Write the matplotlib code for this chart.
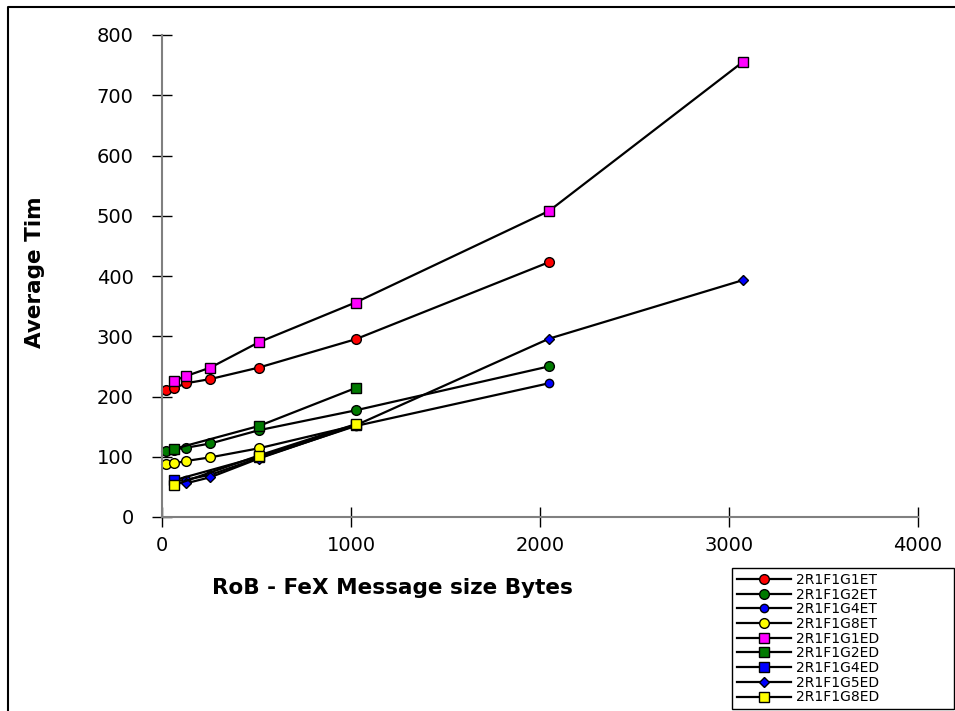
import matplotlib
matplotlib.use("Agg")
import matplotlib.pyplot as plt
from matplotlib.lines import Line2D

# ---- data ----
g1et_x = [20, 64, 128, 256, 512, 1024, 2048]
g1et_y = [210, 214, 222, 229, 248, 295, 423]
g2et_x = [20, 64, 128, 256, 512, 1024, 2048]
g2et_y = [110, 112, 115, 122, 144, 177, 250]
g4et_x = [64, 128, 256, 512, 1024, 2048]
g4et_y = [59, 62, 70, 98, 151, 222]
g8et_x = [20, 64, 128, 256, 512, 1024]
g8et_y = [88, 89, 93, 99, 114, 152]
g1ed_x = [64, 128, 256, 512, 1024, 2048, 3072]
g1ed_y = [226, 234, 248, 290, 356, 508, 755]
g2ed_x = [64, 512, 1024]
g2ed_y = [113, 151, 214]
g4ed_x = [64, 512, 1024]
g4ed_y = [61, 100, 153]
g5ed_x = [128, 256, 512, 1024, 2048, 3072]
g5ed_y = [56, 66, 97, 152, 296, 393]
g8ed_x = [64, 512, 1024]
g8ed_y = [53, 102, 154]

labels = ["2R1F1G1ET", "2R1F1G2ET", "2R1F1G4ET", "2R1F1G8ET",
          "2R1F1G1ED", "2R1F1G2ED", "2R1F1G4ED", "2R1F1G5ED", "2R1F1G8ED"]
x_ticks = [0, 1000, 2000, 3000, 4000]
y_ticks = [0, 100, 200, 300, 400, 500, 600, 700, 800]

series = [
    (g1et_x, g1et_y, "o", "#FF0000", 7),
    (g2et_x, g2et_y, "o", "#007A00", 7),
    (g4et_x, g4et_y, "o", "#0000FF", 6),
    (g8et_x, g8et_y, "o", "#FFFF00", 7),
    (g1ed_x, g1ed_y, "s", "#FF00FF", 7.5),
    (g2ed_x, g2ed_y, "s", "#007A00", 7.5),
    (g4ed_x, g4ed_y, "s", "#0000FF", 6.5),
    (g5ed_x, g5ed_y, "D", "#0000FF", 5.5),
    (g8ed_x, g8ed_y, "s", "#FFFF00", 6.5),
]

plt.rcParams['font.family'] = ['DejaVu Sans']

fig = plt.figure(figsize=(9.55, 7.11), dpi=100)
ax = fig.add_axes([162/955, 1-517/711, (918-162)/955, (517-35)/711])

handles = []
for (xs, ys, m, c, ms), lab in zip(series, labels):
    h, = ax.plot(xs, ys, color="black", lw=1.6, marker=m, markersize=ms,
                 markerfacecolor=c, markeredgecolor="black", markeredgewidth=1.0,
                 label=lab, clip_on=False)
    handles.append(h)

ax.set_xlim(0, 4000)
ax.set_ylim(0, 800)
ax.set_xticks(x_ticks)
ax.set_yticks(y_ticks)
ax.set_xticklabels([str(v) for v in x_ticks])
ax.set_yticklabels([str(v) for v in y_ticks])

for s in ["top", "right"]:
    ax.spines[s].set_visible(False)
for s in ["left", "bottom"]:
    ax.spines[s].set_color("#808080")
    ax.spines[s].set_linewidth(1.5)

ax.tick_params(axis="both", direction="inout", length=15, width=1, color="black",
               labelsize=14)
ax.tick_params(axis="y", pad=13)
ax.tick_params(axis="x", pad=6)
ax.patch.set_visible(False)

fig.text(35/955, 1-272/711, "Average Tim", rotation=90, fontsize=15.5,
         fontweight="bold", ha="center", va="center")
fig.text(392/955, 1-588/711, "RoB - FeX Message size Bytes", fontsize=15.5,
         fontweight="bold", ha="center", va="center")

leg = ax.legend(handles, labels, loc="upper left",
                bbox_to_anchor=(732/955, 1-706/711, (954-732)/955, (706-568)/711),
                bbox_transform=fig.transFigure, mode="expand",
                fontsize=10, labelspacing=0.05, handlelength=3.9, handletextpad=0.35,
                borderpad=0.35, borderaxespad=0, fancybox=False, framealpha=1,
                edgecolor="black")
leg.get_frame().set_linewidth(1.0)

fig.add_artist(Line2D([8/955, 8/955, 1.0], [0, 1-7/711, 1-7/711],
                      transform=fig.transFigure, color="black", lw=1.5))

fig.savefig("out.png", dpi=100)
